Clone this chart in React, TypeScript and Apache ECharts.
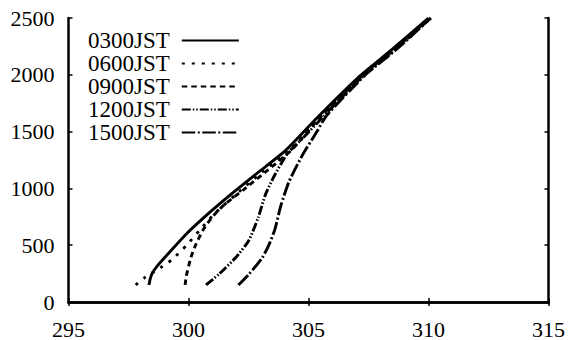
import React, { useEffect, useRef } from "react";
import * as echarts from "echarts";

const seriesNames = ["0300JST", "0600JST", "0900JST", "1200JST", "1500JST"];

const temp0300 = [298.35, 298.4, 298.48, 298.71, 299.2, 299.89, 300.86, 301.83, 302.94, 304.05, 305.4, 307.17, 308.47, 310.0];
const height0300 = [150, 200, 250, 320, 436, 595, 784, 958, 1147, 1335, 1630, 1995, 2221, 2500];

const temp0600 = [297.8, 298.15, 298.85, 299.3, 299.92, 300.5, 301.07, 302.05, 303.1, 304.2, 305.5, 307.22, 308.52, 310.02];
const height0600 = [150, 210, 305, 370, 500, 640, 775, 960, 1150, 1335, 1630, 1995, 2221, 2500];

const temp0900 = [299.86, 299.9, 299.96, 300.1, 300.31, 300.58, 300.86, 301.14, 301.49, 302.3, 303.3, 304.3, 305.5, 307.25, 308.55, 310.05];
const height0900 = [150, 220, 276, 392, 508, 625, 712, 784, 856, 990, 1160, 1340, 1630, 1995, 2221, 2500];

const temp1200 = [300.73, 301.28, 301.97, 302.5, 302.9, 303.2, 303.55, 304.1, 304.8, 305.65, 307.3, 308.6, 310.1];
const height1200 = [150, 247, 392, 537, 740, 943, 1100, 1300, 1450, 1640, 1995, 2221, 2500];

const temp1500 = [302.08, 302.53, 303.08, 303.36, 303.6, 303.85, 304.19, 304.74, 305.35, 305.75, 307.35, 308.65, 310.1];
const height1500 = [150, 247, 392, 508, 640, 850, 1060, 1290, 1500, 1640, 1995, 2221, 2500];

const xMin = 295;
const xMax = 315;
const xInterval = 5;
const yMin = 0;
const yMax = 2500;
const yInterval = 500;

const temps = [temp0300, temp0600, temp0900, temp1200, temp1500];
const heights = [height0300, height0600, height0900, height1200, height1500];

const dashStyles: (string | number[])[] = [
  "solid",
  [3, 7],
  [5.5, 4],
  [9, 2, 1.5, 2, 1.5, 2],
  [13.5, 2.5, 2, 2.5],
];

const FONT = "Liberation Serif";

export default function App() {
  const ref = useRef<HTMLDivElement>(null);

  useEffect(() => {
    if (!ref.current) return;
    const chart = echarts.init(ref.current, undefined, { renderer: "svg" });

    const axisLineStyle = { color: "#000", width: 2.5 };
    const tickStyle = { show: true, inside: true, length: 4, lineStyle: { color: "#000", width: 1.5 } };
    const plain = (v: number) => String(v);

    const series = seriesNames.map((name, i) => ({
      name,
      type: "line",
      xAxisIndex: 0,
      yAxisIndex: 0,
      data: temps[i].map((t, j) => [t, heights[i][j]]),
      symbol: "none",
      showSymbol: false,
      smooth: 0.2,
      lineStyle: { color: "#000", width: 2.9, type: dashStyles[i], cap: "butt" },
      itemStyle: { color: "#000" },
      emphasis: { disabled: true },
    }));

    chart.setOption({
      animation: false,
      backgroundColor: "#fff",
      grid: { left: 68.5, right: 17.5, top: 18, bottom: 35.5, containLabel: false },
      legend: {
        orient: "vertical",
        left: 88,
        top: 29,
        align: "right",
        padding: 0,
        itemWidth: 57,
        itemHeight: 14,
        itemGap: 0,
        selectedMode: false,
        itemStyle: { opacity: 0 },
        textStyle: {
          fontFamily: FONT,
          fontSize: 23,
          color: "#000",
          lineHeight: 22.6,
          padding: [0, 7, 0, 0],
        },
        data: seriesNames,
      },
      xAxis: [
        {
          type: "value",
          position: "bottom",
          min: xMin,
          max: xMax,
          interval: xInterval,
          axisLine: { show: true, lineStyle: axisLineStyle },
          axisTick: tickStyle,
          splitLine: { show: false },
          axisLabel: { color: "#000", fontFamily: FONT, fontSize: 22, margin: 16, formatter: plain },
        },
        {
          type: "value",
          position: "top",
          min: xMin,
          max: xMax,
          interval: xInterval,
          axisLine: { show: true, lineStyle: axisLineStyle },
          axisTick: tickStyle,
          splitLine: { show: false },
          axisLabel: { show: false },
        },
      ],
      yAxis: [
        {
          type: "value",
          position: "left",
          min: yMin,
          max: yMax,
          interval: yInterval,
          axisLine: { show: true, lineStyle: axisLineStyle },
          axisTick: tickStyle,
          splitLine: { show: false },
          axisLabel: {
            color: "#000",
            fontFamily: FONT,
            fontSize: 22,
            margin: 14,
            padding: [7, 0, 0, 0],
            formatter: plain,
          },
        },
        {
          type: "value",
          position: "right",
          min: yMin,
          max: yMax,
          interval: yInterval,
          axisLine: { show: true, lineStyle: axisLineStyle },
          axisTick: tickStyle,
          splitLine: { show: false },
          axisLabel: { show: false },
        },
      ],
      series,
    });

    return () => {
      chart.dispose();
    };
  }, []);

  return (
    <div
      ref={ref}
      style={{ position: "fixed", left: 0, top: 0, width: 568, height: 340, background: "#fff" }}
    />
  );
}
